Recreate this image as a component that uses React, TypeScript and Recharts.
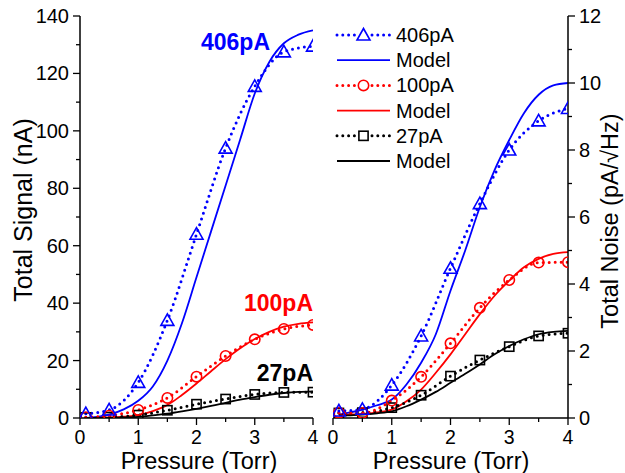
import React from 'react';
import { LineChart, Line, XAxis, YAxis, Legend } from 'recharts';

// ---------- data ----------
const pressure = [0.1, 0.5, 1, 1.5, 2, 2.5, 3, 3.5, 4];
const signal406 = [1.5, 2.8, 12.4, 34, 64, 94, 115.5, 127.5, 129.5];
const signal100 = [0.3, 0.8, 2.8, 7, 14.4, 21.6, 27.4, 31, 32.4];
const signal27 = [0.2, 0.3, 1, 2.7, 4.8, 6.6, 8.2, 8.9, 9.0];

const modelPressure = [0.1, 0.25, 0.5, 0.75, 1, 1.25, 1.5, 1.75, 2, 2.25, 2.5, 2.75, 3, 3.25, 3.5, 3.75, 4];
const signalModel406 = [0, 0.3, 1.2, 3, 6, 11, 20, 33, 49, 65, 81, 97, 113, 124, 130.5, 133.5, 135];
const signalModel100 = [0, 0.05, 0.2, 0.5, 1, 2.4, 4.5, 8, 12, 16.3, 20.5, 24.3, 27.5, 30, 31.8, 32.8, 33.3];
const signalModel27 = [0, 0, 0.05, 0.2, 0.4, 0.9, 1.5, 2.3, 3.2, 4.2, 5.3, 6.4, 7.3, 8.1, 8.7, 9.1, 9.3];

const noise406 = [0.21, 0.26, 0.98, 2.45, 4.47, 6.4, 8.0, 8.87, 9.24];
const noise100 = [0.16, 0.15, 0.52, 1.23, 2.23, 3.29, 4.12, 4.64, 4.65];
const noise27 = [0.15, 0.16, 0.31, 0.68, 1.25, 1.73, 2.13, 2.45, 2.53];

const noiseModel406 = [0.1, 0.15, 0.25, 0.38, 0.55, 1.0, 1.65, 2.5, 3.8, 5.0, 6.3, 7.4, 8.3, 9.1, 9.65, 9.93, 10.0];
const noiseModel100 = [0.1, 0.1, 0.12, 0.17, 0.25, 0.5, 0.85, 1.35, 1.9, 2.5, 3.1, 3.65, 4.1, 4.5, 4.75, 4.9, 4.95];
const noiseModel27 = [0.08, 0.08, 0.1, 0.14, 0.2, 0.35, 0.55, 0.78, 1.05, 1.32, 1.6, 1.9, 2.15, 2.35, 2.5, 2.57, 2.6];

const xTicks = [0, 0.5, 1, 1.5, 2, 2.5, 3, 3.5, 4];
const signalTicks = [0, 10, 20, 30, 40, 50, 60, 70, 80, 90, 100, 110, 120, 130, 140];
const noiseTicks = [0, 1, 2, 3, 4, 5, 6, 7, 8, 9, 10, 11, 12];

const seriesNames = ['406pA', 'Model', '100pA', 'Model', '27pA', 'Model'];
const seriesColors = ['#0000ff', '#0000ff', '#ff0000', '#ff0000', '#000000', '#000000'];
const seriesMarkers = ['triangle', 'none', 'circle', 'none', 'square', 'none'];

const xTitle = 'Pressure (Torr)';
const signalTitle = 'Total Signal (nA)';
const noiseTitle = 'Total Noise (pA/\u221AHz)';
const annotations = ['406pA', '100pA', '27pA'];

const zip = (xs: number[], ys: number[]) => xs.map((x, i) => ({ x, y: ys[i] }));

const FONT = '"Liberation Sans", Arial, Helvetica, sans-serif';

// ---------- markers ----------
function markerShape(kind: string, cx: number, cy: number, color: string, key?: any) {
  if (kind === 'triangle') {
    return (
      <path key={key} d={`M${cx},${cy - 6.5} L${cx + 6.5},${cy + 5} L${cx - 6.5},${cy + 5} Z`}
        fill="none" stroke={color} strokeWidth={1.6} />
    );
  }
  if (kind === 'circle') {
    return <circle key={key} cx={cx} cy={cy} r={5.2} fill="none" stroke={color} strokeWidth={1.6} />;
  }
  if (kind === 'square') {
    return <rect key={key} x={cx - 4.6} y={cy - 4.6} width={9.2} height={9.2} fill="none" stroke={color} strokeWidth={1.6} />;
  }
  return <g key={key} />;
}

const makeDot = (kind: string, color: string) => (p: any) => {
  const { cx, cy, index } = p;
  if (cx == null || cy == null) return <g key={`d${index}`} />;
  return markerShape(kind, cx, cy, color, `d${index}`);
};

// ---------- ticks ----------
const isMajor = (v: number, step: number) => Math.abs(v / step - Math.round(v / step)) < 1e-6;

const makeTick = (side: string, step: number, labels: boolean) => (props: any) => {
  const { x, y, payload } = props;
  const v = payload.value;
  const major = isMajor(v, step);
  const len = major ? 7 : 4;
  const txt = labels && major ? String(v) : '';
  const common = { fontSize: 20, fontFamily: FONT, fill: '#000' };
  if (side === 'left') {
    return (
      <g>
        <line x1={x} y1={y} x2={x - len} y2={y} stroke="#000" strokeWidth={1.3} />
        {txt && <text x={x - 11} y={y + 7} textAnchor="end" {...common}>{txt}</text>}
      </g>
    );
  }
  if (side === 'right') {
    return (
      <g>
        <line x1={x} y1={y} x2={x + len} y2={y} stroke="#000" strokeWidth={1.3} />
        {txt && <text x={x + 11} y={y + 7} textAnchor="start" {...common}>{txt}</text>}
      </g>
    );
  }
  if (side === 'bottom') {
    return (
      <g>
        <line x1={x} y1={y} x2={x} y2={y + len} stroke="#000" strokeWidth={1.3} />
        {txt && <text x={x} y={y + 25.5} textAnchor="middle" {...common} fontSize={19.5}>{txt}</text>}
      </g>
    );
  }
  if (side === 'top') {
    return <line x1={x} y1={y} x2={x} y2={y + len} stroke="#000" strokeWidth={1.3} />;
  }
  if (side === 'rightIn') {
    return <line x1={x} y1={y} x2={x - len} y2={y} stroke="#000" strokeWidth={1.3} />;
  }
  if (side === 'leftIn') {
    return <line x1={x} y1={y} x2={x + len} y2={y} stroke="#000" strokeWidth={1.3} />;
  }
  return <g />;
};

const axisLine = { stroke: '#000', strokeWidth: 1.5 };

// ---------- legend ----------
const renderLegend = () => (
  <svg width={130} height={156} style={{ display: 'block', overflow: 'visible' }}>
    {seriesNames.map((name, i) => {
      const cy = 13 + i * 25.2;
      const color = seriesColors[i];
      const marker = seriesMarkers[i];
      return (
        <g key={i}>
          {marker === 'none' ? (
            <line x1={2} y1={cy} x2={55} y2={cy} stroke={color} strokeWidth={1.8} />
          ) : (
            <g>
              <line x1={2} y1={cy} x2={20} y2={cy} stroke={color} strokeWidth={3} strokeDasharray="0 5.8" strokeLinecap="round" />
              <line x1={37} y1={cy} x2={55} y2={cy} stroke={color} strokeWidth={3} strokeDasharray="0 5.8" strokeLinecap="round" />
              {markerShape(marker, 28.5, cy, color)}
            </g>
          )}
          <text x={61} y={cy + 7} fontSize={20} fontFamily={FONT} fill="#000">{name}</text>
        </g>
      );
    })}
  </svg>
);

function dataLine(key: string, xs: number[], ys: number[], color: string, marker: string, name: string) {
  return (
    <Line key={key} name={name} data={zip(xs, ys)} dataKey="y" xAxisId="main" yAxisId="main"
      type="monotone" stroke={color} strokeWidth={3} strokeDasharray="0 6" strokeLinecap="round"
      dot={makeDot(marker, color)} activeDot={false} isAnimationActive={false} />
  );
}
function modelLine(key: string, xs: number[], ys: number[], color: string) {
  return (
    <Line key={key} name="Model" data={zip(xs, ys)} dataKey="y" xAxisId="main" yAxisId="main"
      type="monotone" stroke={color} strokeWidth={1.8} dot={false} activeDot={false} isAnimationActive={false} />
  );
}

export default function App() {
  return (
    <div style={{ position: 'absolute', left: 0, top: 0, width: 625, height: 473, background: '#fff', fontFamily: FONT }}>
      <div style={{ position: 'absolute', left: 0, top: 0 }}>
        <LineChart width={320} height={473} margin={{ top: 16, right: 7, bottom: 0, left: 20 }}>
          <XAxis xAxisId="main" type="number" dataKey="x" domain={[0, 4]} ticks={xTicks} interval={0}
            height={55} tickSize={0} tickMargin={0} tickLine={false} axisLine={axisLine}
            tick={makeTick('bottom', 1, true)} allowDataOverflow />
          <XAxis xAxisId="top" orientation="top" type="number" dataKey="x" domain={[0, 4]} ticks={xTicks} interval={0}
            height={0} tickSize={0} tickMargin={0} tickLine={false} axisLine={axisLine}
            tick={makeTick('top', 1, false)} allowDataOverflow />
          <YAxis yAxisId="main" type="number" domain={[0, 140]} ticks={signalTicks} interval={0}
            width={60} tickSize={0} tickMargin={0} tickLine={false} axisLine={axisLine}
            tick={makeTick('left', 20, true)} allowDataOverflow />
          <YAxis yAxisId="mirror" orientation="right" type="number" domain={[0, 140]} ticks={signalTicks} interval={0}
            width={0} tickSize={0} tickMargin={0} tickLine={false} axisLine={axisLine}
            tick={makeTick('rightIn', 20, false)} allowDataOverflow />
          {modelLine('m406', modelPressure, signalModel406, seriesColors[1])}
          {modelLine('m100', modelPressure, signalModel100, seriesColors[3])}
          {modelLine('m27', modelPressure, signalModel27, seriesColors[5])}
          {dataLine('d27', pressure, signal27, seriesColors[4], seriesMarkers[4], seriesNames[4])}
          {dataLine('d100', pressure, signal100, seriesColors[2], seriesMarkers[2], seriesNames[2])}
          {dataLine('d406', pressure, signal406, seriesColors[0], seriesMarkers[0], seriesNames[0])}
        </LineChart>
      </div>
      <div style={{ position: 'absolute', left: 320, top: 0 }}>
        <LineChart width={305} height={473} margin={{ top: 16, right: 0, bottom: 0, left: 13 }}>
          <XAxis xAxisId="main" type="number" dataKey="x" domain={[0, 4]} ticks={xTicks} interval={0}
            height={55} tickSize={0} tickMargin={0} tickLine={false} axisLine={axisLine}
            tick={makeTick('bottom', 1, true)} allowDataOverflow />
          <XAxis xAxisId="top" orientation="top" type="number" dataKey="x" domain={[0, 4]} ticks={xTicks} interval={0}
            height={0} tickSize={0} tickMargin={0} tickLine={false} axisLine={axisLine}
            tick={makeTick('top', 1, false)} allowDataOverflow />
          <YAxis yAxisId="main" orientation="right" type="number" domain={[0, 12]} ticks={noiseTicks} interval={0}
            width={57} tickSize={0} tickMargin={0} tickLine={false} axisLine={axisLine}
            tick={makeTick('right', 2, true)} allowDataOverflow />
          <YAxis yAxisId="mirror" orientation="left" type="number" domain={[0, 12]} ticks={noiseTicks} interval={0}
            width={0} tickSize={0} tickMargin={0} tickLine={false} axisLine={axisLine}
            tick={makeTick('leftIn', 2, false)} allowDataOverflow />
          <Legend layout="vertical" align="center" verticalAlign="middle" content={renderLegend}
            wrapperStyle={{ left: 15, top: 22, width: 130, height: 156 }} />
          {modelLine('m406', modelPressure, noiseModel406, seriesColors[1])}
          {modelLine('m100', modelPressure, noiseModel100, seriesColors[3])}
          {modelLine('m27', modelPressure, noiseModel27, seriesColors[5])}
          {dataLine('d27', pressure, noise27, seriesColors[4], seriesMarkers[4], seriesNames[4])}
          {dataLine('d100', pressure, noise100, seriesColors[2], seriesMarkers[2], seriesNames[2])}
          {dataLine('d406', pressure, noise406, seriesColors[0], seriesMarkers[0], seriesNames[0])}
        </LineChart>
      </div>
      <svg width={625} height={473} style={{ position: 'absolute', left: 0, top: 0, pointerEvents: 'none' }}>
        <text x={199} y={468.5} textAnchor="middle" fontSize={23.5} fontFamily={FONT}>{xTitle}</text>
        <text x={451} y={468.5} textAnchor="middle" fontSize={23.5} fontFamily={FONT}>{xTitle}</text>
        <text x={32} y={210} textAnchor="middle" fontSize={25} fontFamily={FONT} transform="rotate(-90 32 210)">{signalTitle}</text>
        <text x={618} y={221} textAnchor="middle" fontSize={23.5} fontFamily={FONT} transform="rotate(-90 618 221)">{noiseTitle}</text>
        <text x={270} y={50} textAnchor="end" fontSize={23} fontWeight="bold" fontFamily={FONT} fill="#0000ff">{annotations[0]}</text>
        <text x={313} y={311} textAnchor="end" fontSize={23} fontWeight="bold" fontFamily={FONT} fill="#ff0000">{annotations[1]}</text>
        <text x={313} y={381} textAnchor="end" fontSize={23} fontWeight="bold" fontFamily={FONT} fill="#000000">{annotations[2]}</text>
      </svg>
    </div>
  );
}
